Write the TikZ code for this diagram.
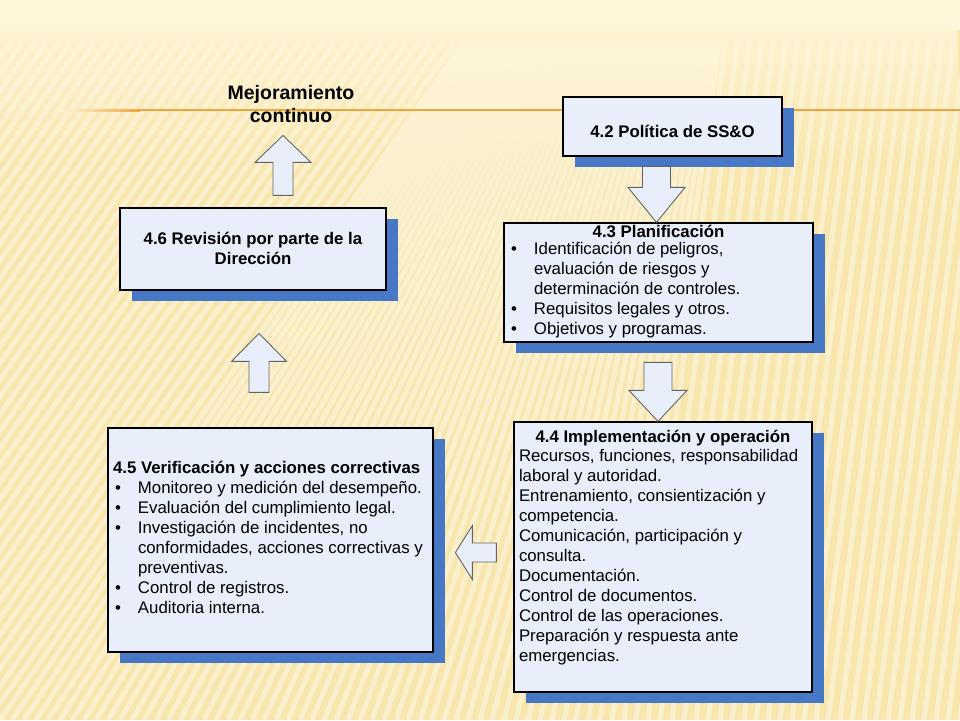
\documentclass[tikz,border=0pt]{standalone}
\usepackage{fontspec}
\setmainfont{Liberation Sans}
\usepackage{tikz}
\usetikzlibrary{calc,shadows,fadings}
\definecolor{boxfill}{RGB}{232,238,250}
\definecolor{shadowblue}{RGB}{70,120,197}
\definecolor{arrline}{RGB}{100,100,100}
\definecolor{lineorange}{RGB}{240,165,60}
\definecolor{bgbase}{RGB}{248,230,172}
\definecolor{bgtop}{RGB}{255,246,218}
% box text: height, width, top gap, content
\newcommand{\bxt}[4]{\parbox[c][#1][t]{#2}{\leftskip=5pt\rightskip=-10pt plus 1fil\parfillskip=0pt plus 1fil\parindent=0pt\vspace*{#3}#4}}
\newcommand{\ttl}[1]{{\leftskip=0pt plus 1fil\rightskip=0pt plus 1fil\parfillskip=0pt\strut\textbf{#1}\par}}
\newcommand{\itm}[1]{\hangindent=25pt\hangafter=1\noindent\makebox[25pt][l]{\hspace{2pt}\textbullet}#1\par}
% block arrow: tail, tip, shaft half, head half, head length
\newcommand{\blkarr}[5]{\coordinate (hb) at ($(#2)!#5!(#1)$);
 \draw[blk] ($(#1)!#3!90:(#2)$) -- ($(hb)!#3!-90:(#1)$) -- ($(hb)!#4!-90:(#1)$) -- (#2) -- ($(hb)!#4!90:(#1)$) -- ($(hb)!#3!90:(#1)$) -- ($(#1)!#3!-90:(#2)$) -- cycle;}
\tikzset{
  box/.style={draw,line width=1.2pt,fill=boxfill,inner sep=0pt,drop shadow={shadow xshift=12pt,shadow yshift=-11pt,fill=shadowblue,opacity=1},font=\fontsize{16.8}{20}\selectfont},
  blk/.style={draw=arrline,line width=0.9pt,fill=boxfill,line join=miter},
  stripe/.style={white,opacity=0.4,line width=5pt},
  hl/.style={font=\bfseries\fontsize{19.5}{23}\selectfont,align=center,inner sep=0pt},
}
\begin{document}
\begin{tikzpicture}[x=1pt,y=-1pt]
 \useasboundingbox (0,0) rectangle (960,720);
 % background
 \fill[bgbase] (0,0) rectangle (960,720);
 \foreach \b in {-492,-480,...,960}{
   \pgfmathsetmacro{\s}{min(480,max(90,470-0.6*\b))}
   \draw[stripe] (\b,720) -- ++(\s,-680);
 }
 \fill[bgtop,path fading=south] (0,0) rectangle (960,170);
 \fill[bgtop] (0,0) rectangle (960,30);
 \fill[left color=bgtop,right color=lineorange] (60,109) rectangle (140,111.2);
 \draw[lineorange,line width=2.2pt] (140,110) -- (960,110);
 \node[hl] (mej) at (291,104) {Mejoramiento\\continuo};
 % boxes
 \node[box] (p42) at (672.5,126.5) {\bxt{59pt}{219pt}{26pt}{\ttl{4.2 Política de SS\&O}}};
 \node[box] (p43) at (658.5,282.5) {\bxt{119pt}{309pt}{0pt}{\ttl{4.3 Planificación}\vspace{-3pt}
   \itm{Identificación de peligros,\newline evaluación de riesgos y\newline determinación de controles.}
   \itm{Requisitos legales y otros.}
   \itm{Objetivos y programas.}}};
 \node[box] (p44) at (663,557) {\bxt{270pt}{298pt}{6pt}{\ttl{4.4 Implementación y operación}\vspace{-1pt}
   Recursos, funciones, responsabilidad\newline laboral y autoridad.\newline Entrenamiento, consientización y\newline competencia.\newline Comunicación, participación y\newline consulta.\newline Documentación.\newline Control de documentos.\newline Control de las operaciones.\newline Preparación y respuesta ante\newline emergencias.\par}};
 \node[box] (p45) at (270.5,540) {\bxt{224pt}{325pt}{31pt}{\strut\textbf{4.5 Verificación y acciones correctivas}\par
   \itm{Monitoreo y medición del desempeño.}
   \itm{Evaluación del cumplimiento legal.}
   \itm{Investigación de incidentes, no\newline conformidades, acciones correctivas y\newline preventivas.}
   \itm{Control de registros.}
   \itm{Auditoria interna.}}};
 \node[box] (p46) at (253,249) {\bxt{82pt}{266pt}{22pt}{\ttl{4.6 Revisión por parte de la}\ttl{Dirección}}};
 % block arrows
 \coordinate (a1h) at ($(p43.north)+(-2,0)$);
 \coordinate (a1t) at ($(a1h)+(0,-56)$);
 \blkarr{a1t}{a1h}{14pt}{28.5pt}{35pt}
 \coordinate (a2h) at ($(p44.north)+(-5,0)$);
 \coordinate (a2t) at ($(a2h)+(0,-59)$);
 \blkarr{a2t}{a2h}{14pt}{29pt}{31pt}
 \coordinate (a3t) at ($(p44.west)+(-17,-4.5)$);
 \coordinate (a3h) at ($(a3t)+(-41,0)$);
 \blkarr{a3t}{a3h}{9.5pt}{27pt}{17pt}
 \coordinate (a4t) at ($(p45.north)+(-11.5,-35)$);
 \coordinate (a4h) at ($(a4t)+(0,-59)$);
 \blkarr{a4t}{a4h}{10pt}{27.5pt}{28pt}
 \coordinate (a5t) at ($(p46.north)+(30,-12)$);
 \coordinate (a5h) at ($(a5t)+(0,-60)$);
 \blkarr{a5t}{a5h}{10pt}{28pt}{27pt}
\end{tikzpicture}
\end{document}
